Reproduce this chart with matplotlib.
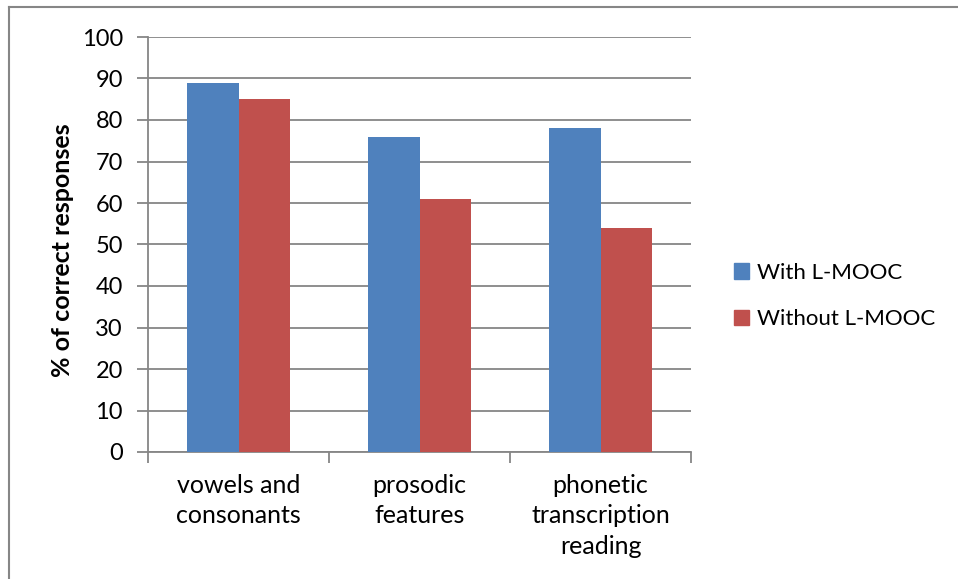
import matplotlib.pyplot as plt
import numpy as np
from matplotlib.lines import Line2D
from matplotlib.patches import Patch

plt.rcParams['font.family'] = ['Lato', 'DejaVu Sans']

categories = ["vowels and\nconsonants", "prosodic\nfeatures", "phonetic\ntranscription\nreading"]
with_lmooc = [89, 76, 78]
without_lmooc = [85, 61, 54]
series_names = ["With L-MOOC", "Without L-MOOC"]

blue = "#4f81bd"
red = "#c0504d"
grey = "#868686"

fig = plt.figure(figsize=(9.58, 5.79), dpi=100)
ax = fig.add_axes([148 / 958, 1 - 452 / 579, (691 - 148) / 958, (452 - 37) / 579])

x = np.arange(len(categories))
w = 0.285
ax.bar(x - w / 2, with_lmooc, w, color=blue, zorder=3)
ax.bar(x + w / 2, without_lmooc, w, color=red, zorder=3)

ax.set_xlim(-0.5, len(categories) - 0.5)
ax.set_ylim(0, 100)
ax.set_yticks(range(0, 101, 10))
ax.yaxis.grid(True, color=grey, linewidth=1.3, zorder=0)

ax.set_xticks(x)
ax.set_xticklabels(categories, fontsize=18, linespacing=1.38)
ax.set_xticks(np.arange(-0.5, len(categories), 1), minor=True)
ax.tick_params(axis='x', which='major', length=0, pad=16)
ax.tick_params(axis='x', which='minor', length=8, width=1.3, color=grey, direction='out')
ax.tick_params(axis='y', length=8, width=1.3, color=grey, labelsize=17, pad=10)

for s in ['top', 'right']:
    ax.spines[s].set_visible(False)
for s in ['left', 'bottom']:
    ax.spines[s].set_color(grey)
    ax.spines[s].set_linewidth(1.3)

fig.text(63 / 958, 1 - 250 / 579, "% of correct responses", rotation=90,
         fontsize=18, fontweight='bold', ha='center', va='center')

handles = [Patch(color=blue), Patch(color=red)]
fig.legend(handles, series_names, loc='center left',
           bbox_to_anchor=(734 / 958, 1 - 296 / 579), frameon=False,
           fontsize=16, handlelength=0.68, handleheight=0.68, borderpad=0,
           borderaxespad=0, handletextpad=0.36, labelspacing=1.2)

# chart border (top and left edges visible)
fig.add_artist(Line2D([9 / 958, 1], [1 - 7 / 579, 1 - 7 / 579], color=grey, linewidth=1.5))
fig.add_artist(Line2D([9 / 958, 9 / 958], [0, 1 - 7 / 579], color=grey, linewidth=1.5))

fig.savefig("out.png", dpi=100)
